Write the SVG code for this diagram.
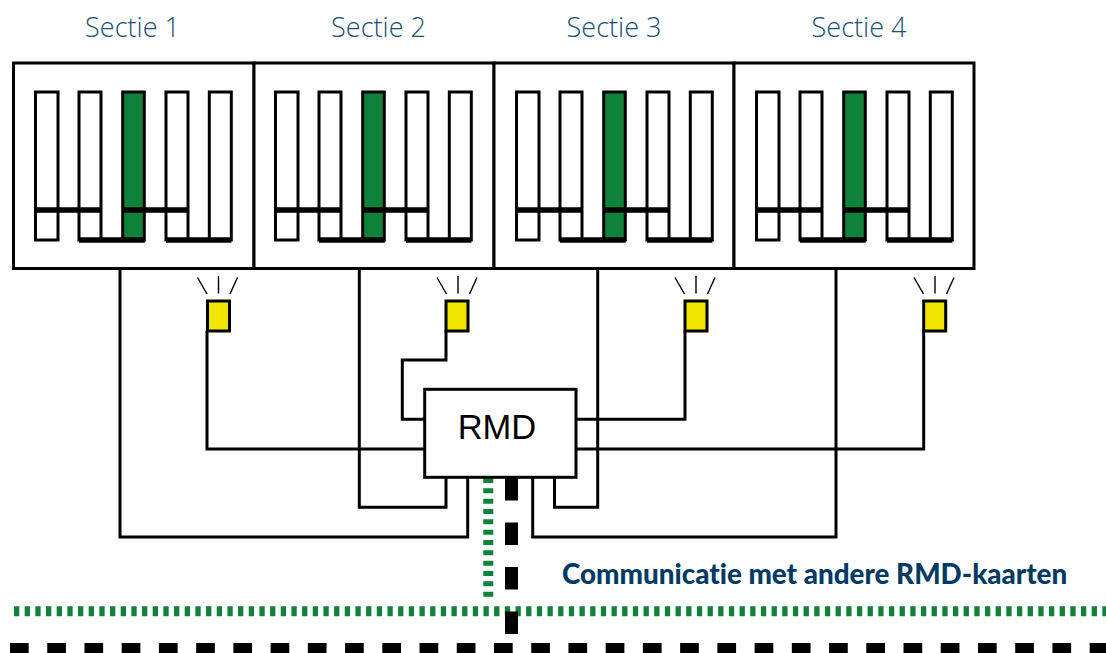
<svg xmlns="http://www.w3.org/2000/svg" xmlns:xlink="http://www.w3.org/1999/xlink" width="1106" height="653" viewBox="0 0 1106 653">
<style>
.box{fill:#fff;stroke:#000;stroke-width:3}
.slot{fill:#fff;stroke:#000;stroke-width:3}
.on{fill:#108138}
.bar{fill:none;stroke:#000;stroke-width:5.5}
.wire{fill:none;stroke:#000;stroke-width:3}
.lamp{fill:#f2e500;stroke:#000;stroke-width:3}
.ray{fill:none;stroke:#000;stroke-width:1.4}
.h{font-family:"Open Sans","Liberation Sans",sans-serif;font-weight:300;font-size:27px;fill:#1a4f75;text-anchor:middle}
.c{font-family:"Lato","Liberation Sans",sans-serif;font-weight:900;font-size:27.800px;fill:#003a63;font-variant-ligatures:none}
.r{font-family:"Liberation Sans",Arial,sans-serif;font-size:34.500px;fill:#000;text-anchor:middle}
</style>
<defs>
<g id="card">
<rect class="slot" x="35.500" y="92" width="22.500" height="148"/>
<rect class="slot" x="79" y="92" width="22" height="148"/>
<rect class="slot on" x="122.700" y="92" width="21.600" height="148"/>
<rect class="slot" x="166" y="92" width="22" height="148"/>
<rect class="slot" x="209.300" y="92" width="22" height="148"/>
<path class="bar" d="M35.500 210H101M122.700 210H188M79 240H144.700M166 240H231.300"/>
</g>
<g id="rays">
<path class="ray" d="M-21 -23.500L-11.500 -7M0 -25V-7.500M19 -23.500L11.500 -7"/>
</g>
</defs>
<rect width="1106" height="653" fill="#fff"/>
<g id="connectors">
<path class="wire" d="M120 268V537H467.700V477"/>
<path class="wire" d="M359.300 268V507.300H446V477"/>
<path class="wire" d="M597.700 268V507.300H554.500V477"/>
<path class="wire" d="M836 268V537H532.700V477"/>
<path class="wire" d="M207 331V449H425"/>
<path class="wire" d="M446 331V360H402.300V419.300H425"/>
<path class="wire" d="M685 331V419.300H576"/>
<path class="wire" d="M923.700 331V449H576"/>
<path fill="none" stroke="#108138" stroke-width="10" stroke-dasharray="5.300 5.370" d="M14 611.300H1106"/>
<path fill="none" stroke="#000" stroke-width="10" stroke-dasharray="18.700 18.530" d="M10 648H1106"/>
<path fill="none" stroke="#108138" stroke-width="10" stroke-dasharray="5 5.330" d="M488.300 478V597"/>
<path fill="none" stroke="#000" stroke-width="13" stroke-dasharray="22.500 22" d="M511.500 478V635"/>
</g>
<g id="sectie-1"><rect class="box" x="13.500" y="63" width="240.500" height="205.500"/><use xlink:href="#card"/><text class="h" x="132.500" y="36.500">Sectie 1</text></g>
<g id="sectie-2"><rect class="box" x="254" y="63" width="240" height="205.500"/><use xlink:href="#card" x="240"/><text class="h" x="378.500" y="36.500">Sectie 2</text></g>
<g id="sectie-3"><rect class="box" x="494" y="63" width="240" height="205.500"/><use xlink:href="#card" x="481"/><text class="h" x="614" y="36.500">Sectie 3</text></g>
<g id="sectie-4"><rect class="box" x="734" y="63" width="240" height="205.500"/><use xlink:href="#card" x="721"/><text class="h" x="859" y="36.500">Sectie 4</text></g>
<g id="lamp-1"><rect class="lamp" x="207.500" y="301" width="22" height="30"/><use xlink:href="#rays" x="218.500" y="301"/></g>
<g id="lamp-2"><rect class="lamp" x="446" y="301" width="22" height="30"/><use xlink:href="#rays" x="458" y="301"/></g>
<g id="lamp-3"><rect class="lamp" x="685" y="301" width="22" height="30"/><use xlink:href="#rays" x="696" y="301"/></g>
<g id="lamp-4"><rect class="lamp" x="923.700" y="301" width="22" height="30"/><use xlink:href="#rays" x="935" y="301"/></g>
<g id="rmd"><rect class="box" x="424.700" y="389.300" width="151.300" height="88"/><text class="r" x="497" y="439">RMD</text></g>
<text class="c" x="562" y="584">Communicatie met andere RMD-kaarten</text>
</svg>
